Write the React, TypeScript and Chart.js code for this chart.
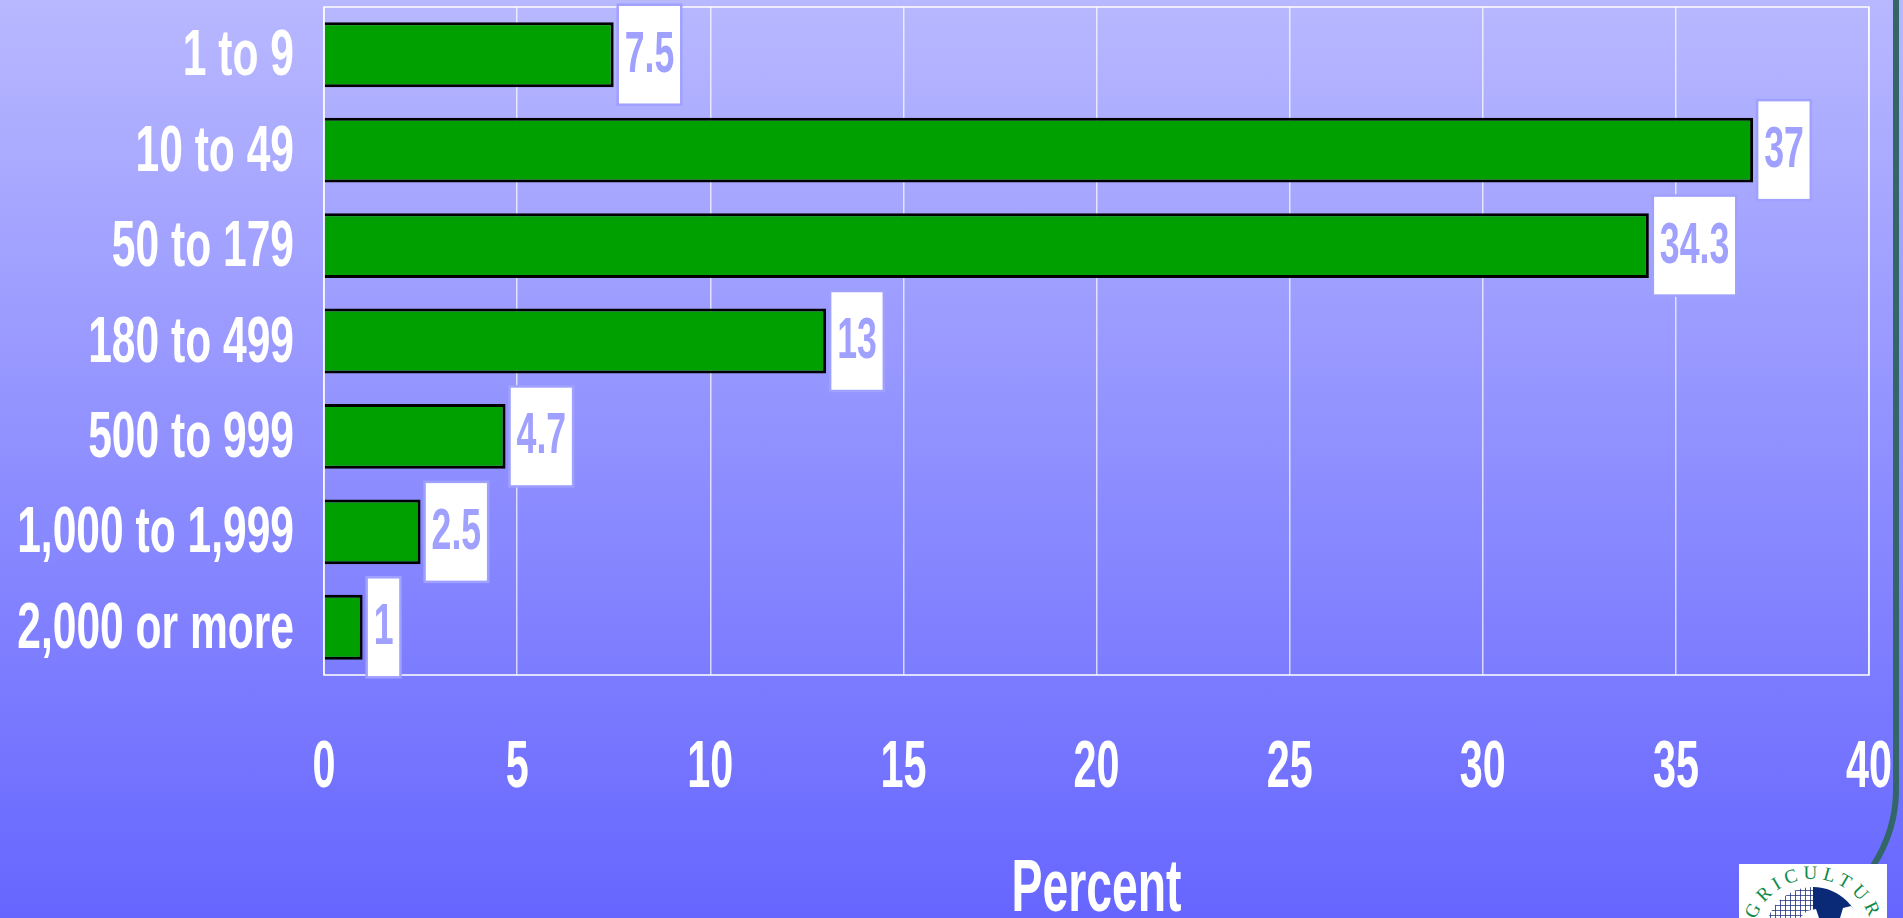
import React, { useEffect, useRef } from "react";
import { Chart, registerables } from "chart.js";

Chart.register(...registerables);

const categories = ["1 to 9", "10 to 49", "50 to 179", "180 to 499", "500 to 999", "1,000 to 1,999", "2,000 or more"];
const percentValues = [7.5, 37, 34.3, 13, 4.7, 2.5, 1];
const valueLabels = ["7.5", "37", "34.3", "13", "4.7", "2.5", "1"];
const axisTitle = "Percent";
const logoText = "AGRICULTURE";

const FONT = '"Liberation Sans", Arial, sans-serif';
const squeeze: Record<string, number> = { "64": 0.665, "67": 0.617, "58": 0.615, "75": 0.618 };
const nudgeY: Record<string, number> = { "64": 3 };

const condensedText = {
  id: "condensedText",
  afterInit(chart: any) {
    const ctx = chart.ctx;
    const orig = ctx.fillText.bind(ctx);
    ctx.fillText = (t: string, x: number, y: number) => {
      const m = /(\d+)px/.exec(ctx.font);
      const k = (m && squeeze[m[1]]) || 1;
      const dy = (m && nudgeY[m[1]]) || 0;
      orig(t, x, y + dy, ctx.measureText(t).width * k);
    };
  },
};

const frame = {
  id: "frame",
  beforeDatasetsDraw(chart: any) {
    const { ctx, chartArea: a } = chart;
    ctx.save();
    ctx.strokeStyle = "#ffffff";
    ctx.lineWidth = 1.5;
    ctx.strokeRect(a.left, a.top, a.right - a.left, a.bottom - a.top);
    ctx.restore();
  },
};

const valueBoxes = {
  id: "valueBoxes",
  afterDatasetsDraw(chart: any) {
    const { ctx } = chart;
    const meta = chart.getDatasetMeta(0);
    ctx.save();
    ctx.font = `bold 58px ${FONT}`;
    ctx.textAlign = "center";
    ctx.textBaseline = "middle";
    meta.data.forEach((bar: any, i: number) => {
      const label = valueLabels[i];
      const w = ctx.measureText(label).width * squeeze["58"] + 14;
      const h = 100;
      const left = bar.x + 4;
      const top = bar.y - h / 2;
      ctx.fillStyle = "#ffffff";
      ctx.strokeStyle = "#a0a0ff";
      ctx.lineWidth = 2.5;
      ctx.fillRect(left, top, w, h);
      ctx.strokeRect(left, top, w, h);
      ctx.fillStyle = "#a0a0ff";
      ctx.fillText(label, left + w / 2, bar.y + 1);
    });
    ctx.restore();
  },
};

export default function App() {
  const ref = useRef<HTMLCanvasElement>(null);
  useEffect(() => {
    document.body.style.margin = "0";
    document.body.style.overflow = "hidden";
    const chart = new Chart(ref.current!, {
      type: "bar",
      data: {
        labels: categories,
        datasets: [
          {
            data: percentValues,
            backgroundColor: "#00a000",
            borderColor: "#000000",
            borderWidth: 3,
            barPercentage: 0.68,
            categoryPercentage: 1,
          },
        ],
      },
      plugins: [condensedText, frame, valueBoxes],
      options: {
        indexAxis: "y",
        animation: false,
        responsive: false,
        devicePixelRatio: 1,
        layout: { padding: { left: 0, right: 34, top: 7, bottom: 0 } },
        plugins: { legend: { display: false }, title: { display: false }, tooltip: { enabled: false } },
        scales: {
          x: {
            min: 0,
            max: 40,
            position: "bottom",
            afterFit: (s: any) => {
              s.height = 243;
              s.paddingLeft = 0;
              s.paddingRight = 0;
            },
            grid: { color: "rgba(255,255,255,0.7)", lineWidth: 1.5, drawTicks: false },
            border: { display: false },
            ticks: {
              stepSize: 5,
              maxRotation: 0,
              autoSkip: false,
              padding: 60,
              color: "#ffffff",
              font: { family: FONT, size: 67, weight: "bold", lineHeight: 1 },
            },
            title: {
              display: true,
              text: axisTitle,
              color: "#ffffff",
              padding: 0,
              font: { family: FONT, size: 75, weight: "bold", lineHeight: 0.75 },
            },
          },
          y: {
            afterFit: (s: any) => {
              s.width = 324;
              s.paddingTop = 0;
              s.paddingBottom = 0;
            },
            grid: { display: false, drawTicks: false },
            border: { display: false },
            ticks: {
              autoSkip: false,
              padding: 30,
              color: "#ffffff",
              font: { family: FONT, size: 64, weight: "bold", lineHeight: 1 },
            },
          },
        },
      },
    } as any);
    return () => chart.destroy();
  }, []);
  return (
    <div
      style={{
        position: "relative",
        width: 1903,
        height: 918,
        overflow: "hidden",
        background: "linear-gradient(180deg, #b8b8ff 0px, #6666ff 918px)",
      }}
    >
      <svg width={1903} height={918} style={{ position: "absolute", left: 0, top: 0 }}>
        <defs>
          <pattern id="hatch" width={5} height={5} patternUnits="userSpaceOnUse">
            <path d="M0 0H5M0 0V5" stroke="#1c2f7c" strokeWidth={1.6} fill="none" />
          </pattern>
          <clipPath id="logoClip">
            <rect x={1739} y={864} width={148} height={54} />
          </clipPath>
        </defs>
        <path d="M1896 0 V790 Q1896 830 1873 866" fill="none" stroke="#336666" strokeWidth={6} />
        <rect x={1739} y={864} width={148} height={54} fill="#ffffff" />
        <g clipPath="url(#logoClip)">
          <path d="M1813 887 A48 48 0 0 0 1765 935 H1813 Z" fill="url(#hatch)" />
          <path d="M1813 887 A48 48 0 0 1 1861 935 H1813 Z" fill="#0a2a78" />
          <path d="M1800 918 L1807 911 L1816 909 L1819 918 Z" fill="#ffffff" />
          <path d="M1840 918 L1843 908 L1851 906 L1858 913 L1858 918 Z" fill="#ffffff" />
          <path id="logoArc" d="M1752 940 A61 61 0 0 1 1874 940" fill="none" />
          <text fontFamily="Liberation Serif" fontSize={19} fill="#0f8a4a" textAnchor="middle" letterSpacing={5}>
            <textPath href="#logoArc" startOffset="50%">{logoText}</textPath>
          </text>
        </g>
      </svg>
      <canvas ref={ref} width={1903} height={918} style={{ position: "absolute", left: 0, top: 0, display: "block" }} />
    </div>
  );
}
